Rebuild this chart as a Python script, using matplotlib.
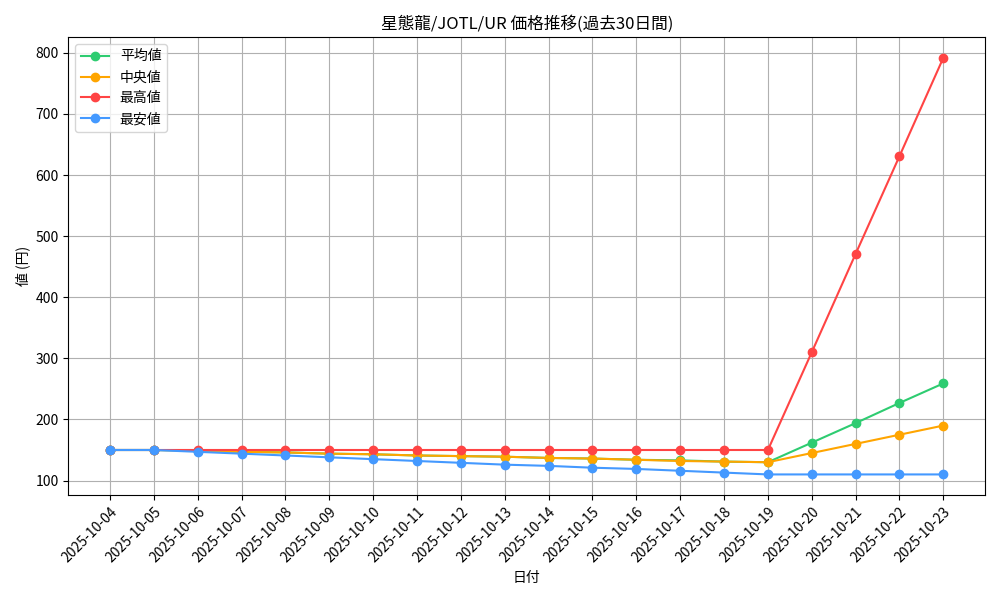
import matplotlib
matplotlib.use("Agg")
import matplotlib.pyplot as plt

plt.rcParams['font.family'] = ['Noto Sans CJK JP', 'DejaVu Sans']

dates = ["2025-10-%02d" % d for d in range(4, 24)]
avg = [150,150,149,147,146,144,143,141,140,139,137,136,134,133,131,130,162,194,227,259]
med = [150,150,149,147,146,144,143,141,140,139,137,136,134,132,131,130,145,160,175,190]
mx = [150]*16 + [310,471,631,792]
mn = [150,150,147,144,141,138,135,132,129,126,124,121,119,116,113,110,110,110,110,110]

fig, ax = plt.subplots(figsize=(10, 6), dpi=100)
ax.plot(dates, avg, marker='o', color='#2ecc71', label='平均値')
ax.plot(dates, med, marker='o', color='#ffa500', label='中央値')
ax.plot(dates, mx, marker='o', color='#ff4444', label='最高値')
ax.plot(dates, mn, marker='o', color='#4499ff', label='最安値')
ax.set_title('星態龍/JOTL/UR 価格推移(過去30日間)')
ax.set_xlabel('日付')
ax.set_ylabel('値 (円)')
ax.grid(True)
ax.legend(loc='upper left')
plt.setp(ax.get_xticklabels(), rotation=45, ha='right', rotation_mode='anchor')
fig.tight_layout()
fig.savefig('out.png')
